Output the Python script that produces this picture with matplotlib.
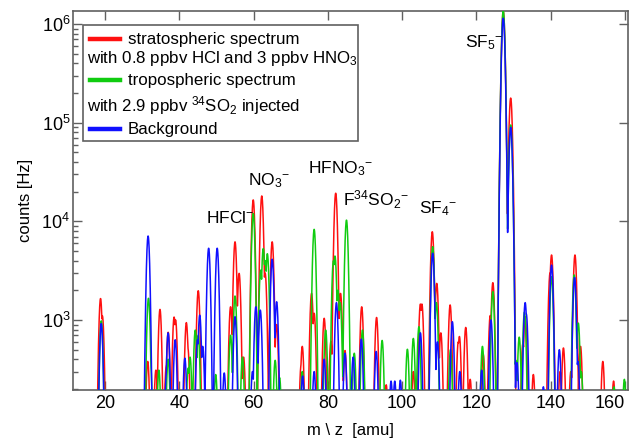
import numpy as np
import matplotlib
matplotlib.use('Agg')
import matplotlib.pyplot as plt
from matplotlib.patches import Rectangle
from matplotlib.lines import Line2D

plt.rcParams['font.family'] = ['Liberation Sans', 'DejaVu Sans']
plt.rcParams['mathtext.default'] = 'regular'

# ---- peak data (m/z, counts in Hz) ----
strat_mz = [18.8, 19.3, 31.5, 33.7, 34.8, 36.5, 37.0, 38.6, 39.0, 41.9, 42.3, 45.1,
            53.8, 55.0, 56.1, 57.3, 59.9, 62.2, 63.1, 65.0, 66.2, 72.8, 73.1, 75.6,
            76.3, 79.0, 80.8, 82.1, 83.4, 84.6, 89.1, 93.1, 95.7, 103.0, 104.9, 105.3,
            108.1, 109.3, 110.4, 112.9, 115.1, 115.4, 117.1, 118.3, 121.8, 123.7, 124.4,
            127.2, 129.2, 132.5, 133.1, 135.3, 139.8, 140.2, 142.5, 143.4, 145.4, 146.5,
            148.0, 154.0, 156.9]
strat_counts = [1650, 1100, 380, 310, 1280, 340, 750, 1070, 1000, 940, 520, 1980,
                1360, 6200, 2970, 420, 16500, 18100, 3000, 6200, 900, 350, 540, 1860,
                1170, 1040, 600, 19300, 1860, 490, 1360, 1060, 220, 300, 1450, 1450,
                7850, 2350, 740, 1420, 600, 680, 840, 250, 450, 1110, 2390,
                1.35e6, 1.78e5, 580, 1080, 280, 3000, 4560, 300, 520, 300, 4560,
                540, 380, 240]

tropo_mz = [19.0, 31.7, 32.2, 34.5, 37.0, 42.4, 42.9, 44.3, 45.1, 49.8, 53.8, 55.0,
            57.0, 59.9, 61.9, 62.6, 63.1, 63.7, 65.8, 67.0, 73.1, 76.3, 79.4, 81.5,
            81.9, 82.7, 83.3, 85.0, 87.1, 89.3, 94.6, 101.4, 103.0, 104.5, 108.2,
            109.2, 113.0, 121.6, 124.4, 127.2, 129.2, 130.6, 131.5, 132.9, 140.2,
            146.3, 147.4, 148.2, 157.0, 159.8]
tropo_counts = [980, 1660, 380, 310, 400, 325, 420, 790, 700, 280, 700, 1750,
                420, 12000, 3200, 5300, 4000, 4700, 390, 260, 300, 8300, 790, 4000,
                4450, 2000, 1500, 10300, 460, 790, 620, 505, 650, 855, 5540,
                1500, 500, 540, 1940, 1.36e6, 9.5e4, 390, 670, 1200, 2750,
                2860, 930, 300, 210, 250]

bg_mz = [19.0, 31.6, 36.6, 37.0, 38.9, 41.5, 44.9, 45.5, 46.3, 47.9, 50.2, 52.1,
         55.0, 59.7, 60.6, 61.8, 65.0, 66.2, 73.2, 76.3, 79.0, 82.3, 84.6, 86.8,
         89.0, 93.0, 97.0, 98.0, 99.5, 104.9, 108.2, 109.5, 113.5, 115.5, 121.4,
         123.9, 127.2, 129.2, 130.9, 133.1, 133.4, 138.0, 140.2, 142.3, 146.4, 147.3]
bg_counts = [920, 7100, 300, 740, 630, 410, 630, 1120, 540, 5340, 5340, 290,
             1080, 300, 1360, 1260, 4130, 1530, 270, 300, 400, 1500, 460, 420,
             640, 480, 240, 240, 245, 740, 4750, 600, 960, 300, 310,
             1000, 1.15e6, 9.0e4, 370, 1500, 1150, 210, 3600, 500, 2700, 380]

xticks = [20, 40, 60, 80, 100, 120, 140, 160]
xtick_labels = ['20', '40', '60', '80', '100', '120', '140', '160']
series_labels = ['stratospheric spectrum', 'tropospheric spectrum', 'Background']


def spectrum(mz, counts, grid, width=0.37, floor=30.0):
    y = np.full_like(grid, floor)
    for m, c in zip(mz, counts):
        y = np.maximum(y, c * np.exp(-0.5 * ((grid - m) / width) ** 2))
    return y


grid = np.arange(11.0, 162.0, 0.02)

fig = plt.figure(figsize=(6.29, 4.42), dpi=100)
ax = fig.add_axes([73 / 629, 52 / 442, 555 / 629, 379 / 442])

red, green, blue = '#ff1010', '#10cc10', '#1010ff'
ax.plot(grid, spectrum(strat_mz, strat_counts, grid), color=red, lw=1.1, zorder=2)
ax.plot(grid, spectrum(tropo_mz, tropo_counts, grid), color=green, lw=1.1, zorder=3)
ax.plot(grid, spectrum(bg_mz, bg_counts, grid), color=blue, lw=1.1, zorder=4)

ax.set_yscale('log')
ax.set_xlim(11.39, 160.78)
ax.set_ylim(195, 1.36e6)

ax.set_xticks(xticks)
ax.set_xticklabels(xtick_labels)
ax.xaxis.set_minor_locator(matplotlib.ticker.NullLocator())
ax.get_xticklabels()[-1].set_horizontalalignment('right')

gray = '#606060'
for s in ax.spines.values():
    s.set_color(gray)
    s.set_linewidth(1.2)
ax.tick_params(which='major', direction='in', length=6.5, width=1.0, color=gray,
               top=True, right=True, labelsize=13, pad=3.5)
ax.tick_params(which='minor', direction='in', length=3.5, width=1.0, color=gray,
               top=False, right=False, labelleft=False)
ax.tick_params(axis='y', which='major', pad=2)

ax.set_ylabel('counts [Hz]', fontsize=12, labelpad=6)
ax.set_xlabel('m \\ z  [amu]', fontsize=12, labelpad=8)


# ---- legend drawn as a box ----
def fx(px):
    return (px - 73) / 555


def fy(py):
    return (390 - py) / 379


ax.add_patch(Rectangle((fx(83), fy(141)), fx(358) - fx(83), fy(25) - fy(141),
                       transform=ax.transAxes, facecolor='white', edgecolor=gray,
                       lw=1.2, zorder=10))
leg_fs = 12.2
handles = [(39, red, 44), (80, green, 85), (129, blue, 134)]
for (yy, col, base), lab in zip(handles, series_labels):
    ax.add_line(Line2D([fx(89.5), fx(120)], [fy(yy), fy(yy)], transform=ax.transAxes,
                       color=col, lw=3.2, zorder=11))
    ax.text(fx(128), fy(base), lab, transform=ax.transAxes, fontsize=leg_fs,
            va='baseline', ha='left', zorder=11)
ax.text(fx(87), fy(63.5), 'with 0.8 ppbv HCl and 3 ppbv HNO$_3$', transform=ax.transAxes,
        fontsize=leg_fs, va='baseline', ha='left', zorder=11)
ax.text(fx(87), fy(111), 'with 2.9 ppbv $^{34}$SO$_2$ injected', transform=ax.transAxes,
        fontsize=leg_fs, va='baseline', ha='left', zorder=11)

# ---- peak annotations ----
ann = [('HFCl$^{-}$', 206, 223), ('NO$_3$$^{-}$', 248, 185), ('HFNO$_3$$^{-}$', 308, 173),
       ('F$^{34}$SO$_2$$^{-}$', 343, 206), ('SF$_4$$^{-}$', 419, 213), ('SF$_5$$^{-}$', 465, 47)]
for txt, px, py in ann:
    ax.text(fx(px), fy(py), txt, transform=ax.transAxes, fontsize=12.5,
            va='baseline', ha='left', zorder=6)

fig.savefig('out.png', dpi=100)
